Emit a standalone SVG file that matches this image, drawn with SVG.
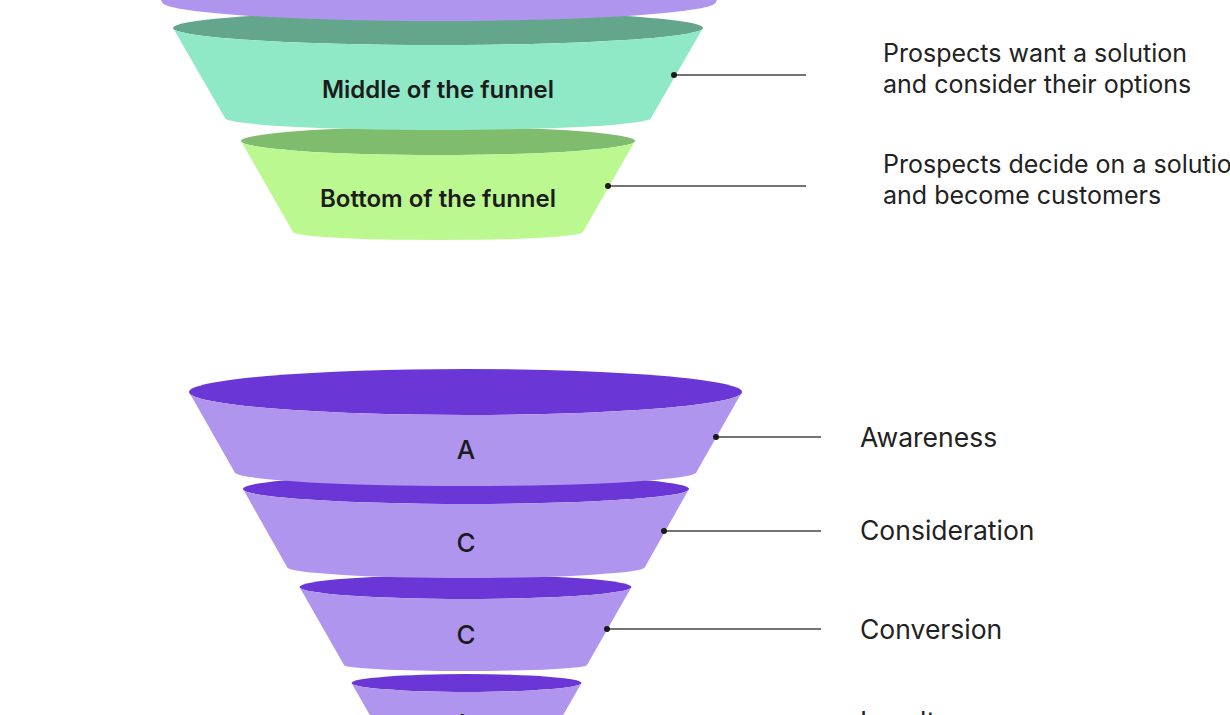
<svg xmlns="http://www.w3.org/2000/svg" width="1230" height="715" viewBox="0 0 1230 715">
<style>
.lbl{font-family:Inter,"Liberation Sans",sans-serif;font-size:24px;font-weight:600;fill:#1c1c1c;text-anchor:middle}
.ltr{font-family:Inter,"Liberation Sans",sans-serif;font-size:26px;font-weight:500;fill:#1c1c1c;text-anchor:middle}
.side{font-family:Inter,"Liberation Sans",sans-serif;font-size:25px;font-weight:400;fill:#222}
.side2{font-family:Inter,"Liberation Sans",sans-serif;font-size:26.5px;font-weight:400;fill:#222}
.pTop{fill:#6b36d6}.pBand{fill:#b095ef}
.gTop{fill:#63a68b}.gBand{fill:#8fe9c6}
.lTop{fill:#80bc6e}.lBand{fill:#bbf890}
.conn line{stroke:#444;stroke-width:1.3}
.conn circle{fill:#1a1a1a}
</style>
<rect width="1230" height="715" fill="#ffffff"/>

<g id="funnel-loyalty">
<ellipse class="pTop" cx="466.5" cy="683" rx="115" ry="9"/>
<path class="pBand" d="M351.5 683 L395.5 760 A71 6 0 0 0 537.5 760 L581.5 683 A115 9 0 0 1 351.5 683 Z"/>
<text class="ltr" x="466" y="733">L</text>
</g>
<g id="funnel-conversion">
<ellipse class="pTop" cx="465.5" cy="587" rx="166" ry="12"/>
<path class="pBand" d="M299.5 587 L344 665 A121.5 6 0 0 0 587 665 L631.5 587 A166 12 0 0 1 299.5 587 Z"/>
<text class="ltr" x="466" y="644">C</text>
</g>
<g id="funnel-consideration">
<ellipse class="pTop" cx="466" cy="489" rx="223" ry="15"/>
<path class="pBand" d="M243 489 L287 567 A179 11 0 0 0 645 567 L689 489 A223 15 0 0 1 243 489 Z"/>
<text class="ltr" x="466" y="552">C</text>
</g>
<g id="funnel-awareness">
<ellipse class="pTop" cx="465.5" cy="392" rx="276.5" ry="23"/>
<path class="pBand" d="M189 392 L234.5 472 A231 14 0 0 0 696.5 472 L742 392 A276.5 23 0 0 1 189 392 Z"/>
<text class="ltr" x="466" y="459">A</text>
</g>

<g id="funnel-bottom">
<ellipse class="lTop" cx="438" cy="141" rx="197" ry="14"/>
<path class="lBand" d="M241 141 L293 232 A145 8 0 0 0 583 232 L635 141 A197 14 0 0 1 241 141 Z"/>
<text class="lbl" x="438" y="207">Bottom of the funnel</text>
</g>
<g id="funnel-middle">
<ellipse class="gTop" cx="438" cy="28" rx="265" ry="17"/>
<path class="gBand" d="M173 28 L225 118 A213 12 0 0 0 651 118 L703 28 A265 17 0 0 1 173 28 Z"/>
<text class="lbl" x="438" y="98">Middle of the funnel</text>
</g>
<g id="funnel-top">
<path class="pBand" d="M154 -12 L162 2 A277 19 0 0 0 716 2 L724 -12 Z"/>
</g>

<g id="connectors" class="conn">
<line x1="674" y1="75" x2="806" y2="75"/><circle cx="674" cy="75" r="3"/>
<line x1="608" y1="186" x2="806" y2="186"/><circle cx="608" cy="186" r="3"/>
<line x1="716" y1="437" x2="821" y2="437"/><circle cx="716" cy="437" r="3"/>
<line x1="664" y1="531" x2="821" y2="531"/><circle cx="664" cy="531" r="3"/>
<line x1="607" y1="629" x2="821" y2="629"/><circle cx="607" cy="629" r="3"/>
</g>

<g id="labels">
<text class="side" x="883" y="62">Prospects want a solution</text>
<text class="side" x="883" y="93">and consider their options</text>
<text class="side" x="883" y="173">Prospects decide on a solution</text>
<text class="side" x="883" y="204">and become customers</text>
<text class="side2" x="860" y="447">Awareness</text>
<text class="side2" x="860" y="540">Consideration</text>
<text class="side2" x="860" y="639">Conversion</text>
<text class="side2" x="860" y="731">Loyalty</text>
</g>
</svg>
